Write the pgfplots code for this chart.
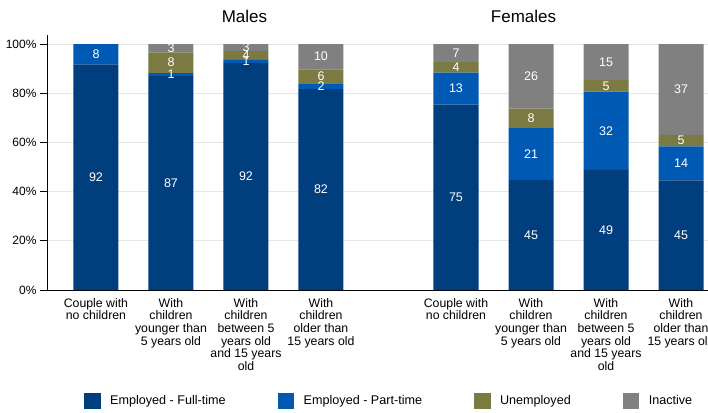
\documentclass[border=0pt]{standalone}
\usepackage{pgfplots}
\pgfplotsset{compat=1.18}
\usepackage{pgfplotstable}
\usepackage{fontspec}
\setmainfont{Liberation Sans}
\definecolor{cFT}{RGB}{0,62,126}
\definecolor{cPT}{RGB}{0,89,178}
\definecolor{cUN}{RGB}{122,122,66}
\definecolor{cIN}{RGB}{128,128,128}
\definecolor{gridc}{RGB}{230,230,230}

% x FT PT UN IN
\pgfplotstableread{
x    ft    pt    un   in
0    91.7  8.3   0.0  0.0
1    86.9  1.3   8.4  3.4
2    92.2  1.3   3.7  2.8
3    81.7  2.3   5.7  10.3
4.8  75.4  13.0  4.2  7.4
5.8  44.8  21.0  7.9  26.3
6.8  48.8  31.8  4.8  14.6
7.8  44.6  13.8  4.7  36.9
}\shares

\pgfplotstableread{
x    y      lab
0    45.85  92
0    95.85  8
1    43.45  87
1    87.55  1
1    92.4   8
1    98.3   3
2    46.1   92
2    92.85  1
2    95.35  4
2    98.6   3
3    40.85  82
3    82.85  2
3    86.85  6
3    94.85  10
4.8  37.7   75
4.8  81.9   13
4.8  90.5   4
4.8  96.3   7
5.8  22.4   45
5.8  55.3   21
5.8  69.75  8
5.8  86.85  26
6.8  24.4   49
6.8  64.7   32
6.8  83.0   5
6.8  92.7   15
7.8  22.3   45
7.8  51.5   14
7.8  60.75  5
7.8  81.55  37
}\labels

\begin{document}
\begin{tikzpicture}[x=1pt,y=1pt]
\path[use as bounding box] (0,0) rectangle (708,412);
\begin{axis}[
  at={(47pt,122pt)}, anchor=south west,
  scale only axis, width=661pt, height=255pt,
  xmin=-0.653, xmax=8.16, ymin=0, ymax=103.66,
  ybar stacked, bar width=0.6,
  axis x line*=bottom, axis y line*=left,
  axis line style={black, line width=0.9pt, -},
  ytick={0,20,40,60,80,100},
  yticklabel={\pgfmathprintnumber{\tick}\%},
  /pgf/number format/assume math mode=true,
  yticklabel style={font=\fontsize{12}{14}\selectfont},
  ytick style={black, line width=0.9pt},
  tick align=outside, major tick length=7pt,
  ymajorgrids, grid style={draw=gridc, line width=0.9pt},
  xtick={0,1,2,3,4.8,5.8,6.8,7.8},
  xtick style={draw=none},
  xticklabels={
    {Couple with\\no children},
    {With\\children\\younger than\\5 years old},
    {With\\children\\between 5\\years old\\and 15 years\\old},
    {With\\children\\older than\\15 years old},
    {Couple with\\no children},
    {With\\children\\younger than\\5 years old},
    {With\\children\\between 5\\years old\\and 15 years\\old},
    {With\\children\\older than\\15 years old}},
  xticklabel style={align=center, font=\fontsize{12.3}{12.7}\selectfont, inner sep=0pt, yshift=-1pt},
  legend columns=4,
  legend cell align=left,
  legend style={draw=none, fill=none, at={(0.056,-0.435)}, anchor=west,
    font=\fontsize{12.6}{14}\selectfont, inner sep=0pt,
    nodes={inner sep=0pt},
    /tikz/every odd column/.append style={column sep=9.5pt},
    /tikz/every even column/.append style={column sep=52pt}},
  legend image code/.code={\fill[#1] (0pt,-8pt) rectangle (16.5pt,8pt);},
]
\addplot[fill=cFT, draw=none] table[x=x, y=ft] {\shares};
\addlegendentry{Employed - Full-time}
\addplot[fill=cPT, draw=none] table[x=x, y=pt] {\shares};
\addlegendentry{Employed - Part-time}
\addplot[fill=cUN, draw=none] table[x=x, y=un] {\shares};
\addlegendentry{Unemployed}
\addplot[fill=cIN, draw=none] table[x=x, y=in] {\shares};
\addlegendentry{Inactive}
\end{axis}
\begin{axis}[
  at={(47pt,122pt)}, anchor=south west,
  scale only axis, width=661pt, height=255pt,
  xmin=-0.653, xmax=8.16, ymin=0, ymax=103.66,
  hide axis, clip=false,
]
\addplot[draw=none, mark=none, nodes near coords, point meta=explicit symbolic,
  every node near coord/.style={anchor=center, text=white, inner sep=0pt,
    font=\fontsize{12.5}{14}\selectfont}]
  table[x=x, y=y, meta=lab] {\labels};
\end{axis}
\node[font=\fontsize{17}{20}\selectfont] at (244.5,395.3) {Males};
\node[font=\fontsize{17}{20}\selectfont] at (523.5,395.3) {Females};
\end{tikzpicture}
\end{document}
